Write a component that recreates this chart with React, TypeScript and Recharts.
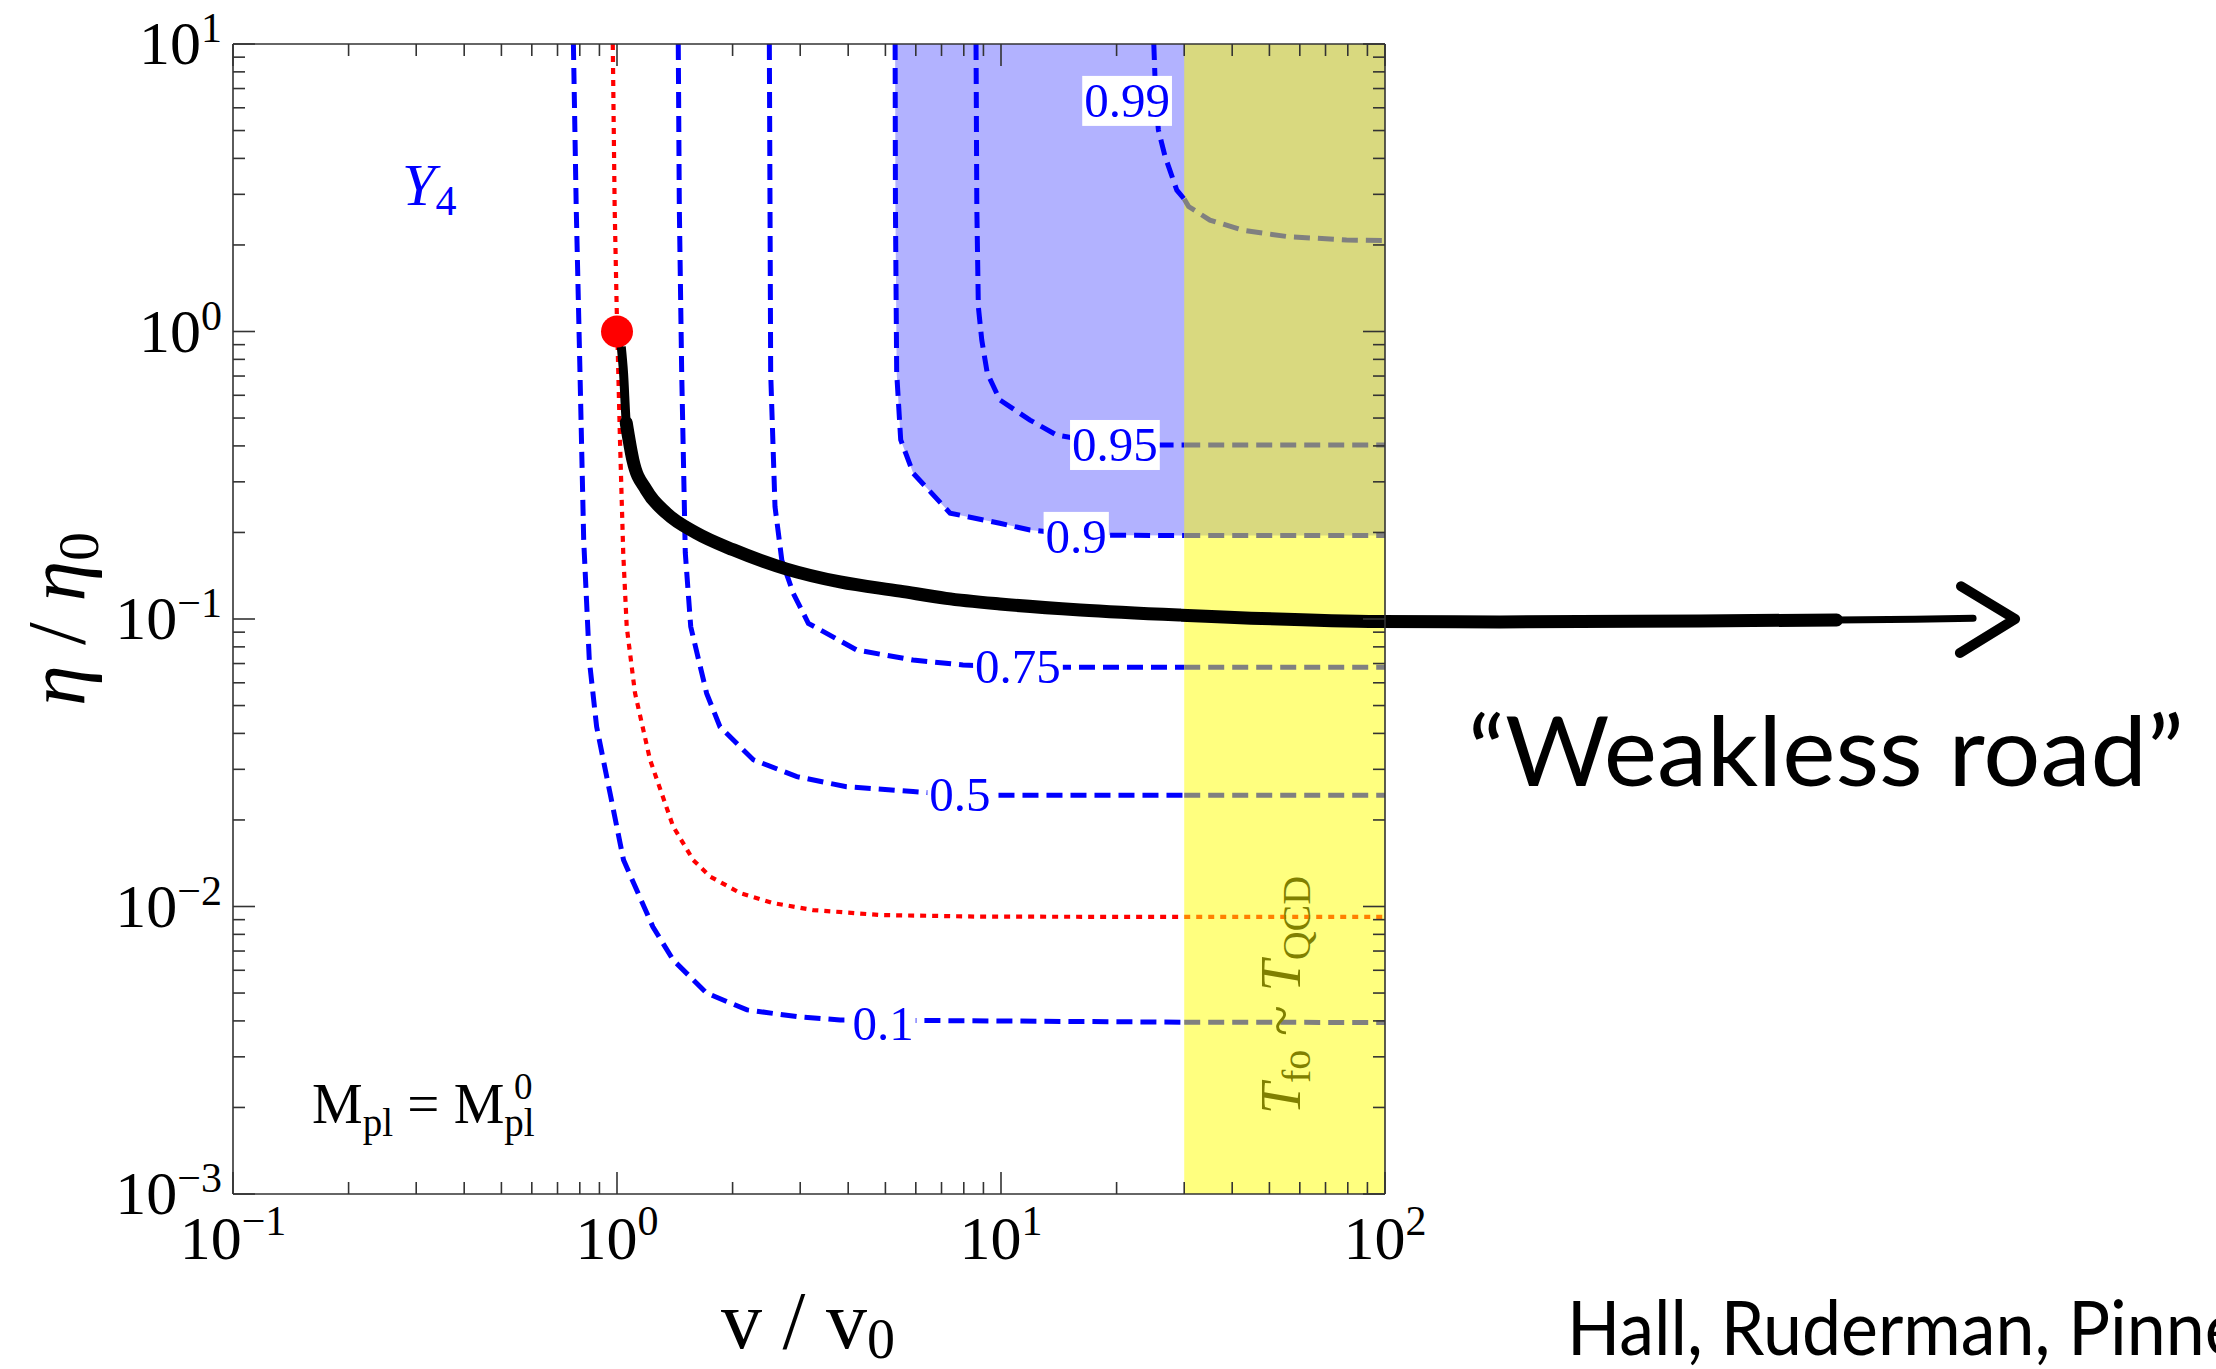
import React from 'react';
import { ComposedChart, XAxis, YAxis, Line, Area, Scatter, ReferenceArea, ReferenceDot } from 'recharts';

type Pt = { v: number; eta: number };

// axis ticks (log decades + minor steps)
const xMajor = [0.1, 1, 10, 100];
const xMajorExp = ['\u22121', '0', '1', '2'];
const yMajor = [0.001, 0.01, 0.1, 1, 10];
const yMajorExp = ['\u22123', '\u22122', '\u22121', '0', '1'];
const minorSteps = [2, 3, 4, 5, 6, 7, 8, 9];

// T_fo ~ T_QCD band
const bandStart = 30;
const bandEnd = 100;

// contours (v / v0, eta / eta0)
const contour10: Pt[] = [
  { v: 0.77, eta: 10 }, { v: 0.783, eta: 2.72 }, { v: 0.801, eta: 0.718 }, { v: 0.819, eta: 0.188 },
  { v: 0.847, eta: 0.072 }, { v: 0.885, eta: 0.0422 }, { v: 0.959, eta: 0.0248 }, { v: 1.04, eta: 0.0145 },
  { v: 1.24, eta: 0.0085 }, { v: 1.4, eta: 0.00652 }, { v: 1.71, eta: 0.005 }, { v: 2.18, eta: 0.00437 },
  { v: 2.94, eta: 0.00414 }, { v: 3.81, eta: 0.00403 }, { v: 30, eta: 0.00396 }, { v: 100, eta: 0.00395 },
];
const redContour: Pt[] = [
  { v: 0.975, eta: 10 }, { v: 0.986, eta: 2.72 }, { v: 0.998, eta: 1.22 }, { v: 1.018, eta: 0.42 },
  { v: 1.038, eta: 0.17 }, { v: 1.06, eta: 0.094 }, { v: 1.114, eta: 0.0553 }, { v: 1.219, eta: 0.0324 },
  { v: 1.4, eta: 0.019 }, { v: 1.58, eta: 0.0145 }, { v: 1.75, eta: 0.0127 }, { v: 2.09, eta: 0.01115 },
  { v: 2.55, eta: 0.01028 }, { v: 3.24, eta: 0.00972 }, { v: 4.84, eta: 0.00934 }, { v: 8.81, eta: 0.00922 },
  { v: 30, eta: 0.0092 }, { v: 100, eta: 0.0092 },
];
const contour50: Pt[] = [
  { v: 1.444, eta: 10 }, { v: 1.453, eta: 2.72 }, { v: 1.474, eta: 0.718 }, { v: 1.506, eta: 0.17 },
  { v: 1.556, eta: 0.094 }, { v: 1.712, eta: 0.0551 }, { v: 1.854, eta: 0.0422 }, { v: 2.264, eta: 0.0324 },
  { v: 2.94, eta: 0.0283 }, { v: 3.96, eta: 0.0261 }, { v: 5.9, eta: 0.0251 }, { v: 7.82, eta: 0.0244 },
  { v: 30, eta: 0.0244 }, { v: 100, eta: 0.0244 },
];
const contour75: Pt[] = [
  { v: 2.493, eta: 10 }, { v: 2.503, eta: 2.72 }, { v: 2.513, eta: 0.718 }, { v: 2.579, eta: 0.246 },
  { v: 2.687, eta: 0.16 }, { v: 2.879, eta: 0.1227 }, { v: 3.15, eta: 0.0966 }, { v: 4.21, eta: 0.078 },
  { v: 5.9, eta: 0.072 }, { v: 7.96, eta: 0.0692 }, { v: 11.07, eta: 0.068 }, { v: 30, eta: 0.068 },
  { v: 100, eta: 0.068 },
];
const contour90: Pt[] = [
  { v: 5.3, eta: 10 }, { v: 5.31, eta: 2.72 }, { v: 5.35, eta: 0.718 }, { v: 5.48, eta: 0.42 },
  { v: 5.91, eta: 0.321 }, { v: 7.37, eta: 0.2334 }, { v: 9.93, eta: 0.2153 }, { v: 11.9, eta: 0.204 },
  { v: 15.8, eta: 0.196 }, { v: 30, eta: 0.195 }, { v: 100, eta: 0.195 },
];
const contour95: Pt[] = [
  { v: 8.61, eta: 10 }, { v: 8.65, eta: 2.72 }, { v: 8.73, eta: 1.22 }, { v: 8.91, eta: 0.934 },
  { v: 9.21, eta: 0.716 }, { v: 9.93, eta: 0.578 }, { v: 11.9, eta: 0.492 }, { v: 13.97, eta: 0.436 },
  { v: 19.8, eta: 0.403 }, { v: 30, eta: 0.403 }, { v: 100, eta: 0.403 },
];
const contour99: Pt[] = [
  { v: 25.0, eta: 10 }, { v: 25.3, eta: 6.34 }, { v: 25.7, eta: 5.02 }, { v: 26.75, eta: 4.06 },
  { v: 28.7, eta: 3.1 }, { v: 30, eta: 2.89 }, { v: 30.8, eta: 2.72 }, { v: 35.0, eta: 2.44 },
  { v: 42.7, eta: 2.25 }, { v: 55.5, eta: 2.14 }, { v: 79.4, eta: 2.08 }, { v: 100, eta: 2.07 },
];

const contourLabels = [
  { v: 21.3, eta: 6.34, text: '0.99' },
  { v: 19.8, eta: 0.403, text: '0.95' },
  { v: 15.7, eta: 0.193, text: '0.9' },
  { v: 11.07, eta: 0.068, text: '0.75' },
  { v: 7.82, eta: 0.0244, text: '0.5' },
  { v: 4.93, eta: 0.0039, text: '0.1' },
];

// starting point and the "weakless road" trajectory
const startPoint: Pt[] = [{ v: 1, eta: 1 }];
const roadStart: Pt[] = [
  { v: 1, eta: 1 }, { v: 1.026, eta: 0.885 }, { v: 1.04, eta: 0.718 }, { v: 1.057, eta: 0.481 },
];
const roadBend: Pt[] = [
  { v: 1.026, eta: 0.885 }, { v: 1.04, eta: 0.718 }, { v: 1.057, eta: 0.481 }, { v: 1.1, eta: 0.357 },
  { v: 1.192, eta: 0.281 },
];
const roadMain: Pt[] = [
  { v: 1.057, eta: 0.481 }, { v: 1.1, eta: 0.357 }, { v: 1.192, eta: 0.281 }, { v: 1.347, eta: 0.233 },
  { v: 1.611, eta: 0.199 }, { v: 2.009, eta: 0.174 }, { v: 2.754, eta: 0.1494 }, { v: 3.81, eta: 0.1345 },
  { v: 5.46, eta: 0.125 }, { v: 7.19, eta: 0.118 }, { v: 9.93, eta: 0.1128 }, { v: 16.1, eta: 0.1075 },
  { v: 29.2, eta: 0.1032 }, { v: 97, eta: 0.098 }, { v: 199, eta: 0.0977 }, { v: 661, eta: 0.0985 },
  { v: 1500, eta: 0.0992 },
];
const roadTaper: Pt[] = [{ v: 1500, eta: 0.0992 }, { v: 2400, eta: 0.0998 }, { v: 3400, eta: 0.1006 }];
const arrowHead: Pt[] = [{ v: 3162, eta: 0.13 }, { v: 4375, eta: 0.1 }, { v: 3141, eta: 0.0762 }];

const SERIF = '"Liberation Serif", "Times New Roman", serif';
const HAND = '"Comic Sans MS", "Lato", "Noto Sans", sans-serif';
const FRAME = '#333';

const logTicks = (majors: number[]) => {
  const out: number[] = [];
  majors.forEach((m, i) => {
    out.push(m);
    if (i < majors.length - 1) minorSteps.forEach((k) => out.push(m * k));
  });
  return out;
};
const xTicks = logTicks(xMajor);
const yTicks = logTicks(yMajor);

const below = (pts: Pt[]) => pts.filter((p) => p.v <= bandStart);
const inBand = (pts: Pt[]) => pts.filter((p) => p.v >= bandStart);

const BLUE_DASH = '16 8';
const contours = [
  { id: 'c10', pts: contour10, color: '#0000ff', bandColor: '#808080', dash: BLUE_DASH, w: 5 },
  { id: 'red', pts: redContour, color: '#ff0000', bandColor: '#ff8000', dash: '6 6', w: 4.2 },
  { id: 'c50', pts: contour50, color: '#0000ff', bandColor: '#808080', dash: BLUE_DASH, w: 5 },
  { id: 'c75', pts: contour75, color: '#0000ff', bandColor: '#808080', dash: BLUE_DASH, w: 5 },
  { id: 'c90', pts: contour90, color: '#0000ff', bandColor: '#808080', dash: BLUE_DASH, w: 5 },
  { id: 'c95', pts: contour95, color: '#0000ff', bandColor: '#808080', dash: BLUE_DASH, w: 5 },
  { id: 'c99', pts: contour99, color: '#0000ff', bandColor: '#808080', dash: BLUE_DASH, w: 5 },
];

const BottomTick = (props: any) => {
  const { x, y, payload } = props;
  const idx = xMajor.indexOf(payload.value);
  const major = idx >= 0;
  return (
    <g>
      <line x1={x} x2={x} y1={y} y2={y - (major ? 22 : 12)} stroke={FRAME} strokeWidth={1.6} />
      {major && (
        <text x={x} y={y + 65} textAnchor="middle" fontFamily={SERIF} fontSize={62} fill="#000">
          10<tspan dy={-24} fontSize={42}>{xMajorExp[idx]}</tspan>
        </text>
      )}
    </g>
  );
};

const TopTick = (props: any) => {
  const { x, y, payload } = props;
  const major = xMajor.includes(payload.value);
  return <line x1={x} x2={x} y1={y} y2={y + (major ? 22 : 12)} stroke={FRAME} strokeWidth={1.6} />;
};

const LeftTick = (props: any) => {
  const { x, y, payload } = props;
  const idx = yMajor.indexOf(payload.value);
  const major = idx >= 0;
  return (
    <g>
      <line x1={x} x2={x + (major ? 22 : 12)} y1={y} y2={y} stroke={FRAME} strokeWidth={1.6} />
      {major && (
        <text x={x - 11} y={y + 20} textAnchor="end" fontFamily={SERIF} fontSize={62} fill="#000">
          10<tspan dy={-22} fontSize={42}>{yMajorExp[idx]}</tspan>
        </text>
      )}
    </g>
  );
};

const RightTick = (props: any) => {
  const { x, y, payload } = props;
  const major = yMajor.includes(payload.value);
  return <line x1={x} x2={x - (major ? 22 : 12)} y1={y} y2={y} stroke={FRAME} strokeWidth={1.6} />;
};

const labelShape = (text: string) => (p: any) => {
  const digits = text.replace('.', '').length;
  const w = digits * 24.5 + 12.25 + 4;
  return (
    <g>
      <rect x={p.cx - w / 2} y={p.cy - 25} width={w} height={50} fill="#ffffff" />
      <text x={p.cx} y={p.cy + 16} textAnchor="middle" fontFamily={SERIF} fontSize={49} fill="#0000ff">
        {text}
      </text>
    </g>
  );
};

const App = () => {
  return (
    <div style={{ position: 'relative', width: 2216, height: 1369, overflow: 'hidden', background: '#fff' }}>
      {/* the road runs past the frame into the arrow, so chart clipping is switched off */}
      <style>{'body{margin:0;} .recharts-wrapper [clip-path]{clip-path:none !important;}'}</style>
      <ComposedChart width={2216} height={1369} margin={{ top: 43, right: 830, bottom: 95, left: 133 }}>
        <XAxis
          xAxisId="x"
          dataKey="v"
          type="number"
          scale="log"
          domain={[0.1, 100]}
          allowDataOverflow
          ticks={xTicks}
          interval={0}
          tickSize={0}
          tickMargin={0}
          height={80}
          axisLine={{ stroke: FRAME, strokeWidth: 1.6 }}
          tick={BottomTick}
        />
        <XAxis
          xAxisId="xt"
          orientation="top"
          dataKey="v"
          type="number"
          scale="log"
          domain={[0.1, 100]}
          allowDataOverflow
          ticks={xTicks}
          interval={0}
          tickSize={0}
          tickMargin={0}
          height={1}
          axisLine={{ stroke: FRAME, strokeWidth: 1.6 }}
          tick={TopTick}
        />
        <YAxis
          yAxisId="y"
          type="number"
          scale="log"
          domain={[0.001, 10]}
          allowDataOverflow
          ticks={yTicks}
          interval={0}
          tickSize={0}
          tickMargin={0}
          width={100}
          axisLine={{ stroke: FRAME, strokeWidth: 1.6 }}
          tick={LeftTick}
        />
        <YAxis
          yAxisId="yr"
          orientation="right"
          type="number"
          scale="log"
          domain={[0.001, 10]}
          allowDataOverflow
          ticks={yTicks}
          interval={0}
          tickSize={0}
          tickMargin={0}
          width={1}
          axisLine={{ stroke: FRAME, strokeWidth: 1.6 }}
          tick={RightTick}
        />

        <Area
          xAxisId="x"
          yAxisId="y"
          data={contour90}
          dataKey={(d: Pt) => [d.eta, 10]}
          type="linear"
          fill="#0000ff"
          fillOpacity={0.3}
          stroke="none"
          isAnimationActive={false}
        />
        <ReferenceArea
          xAxisId="x"
          yAxisId="y"
          x1={bandStart}
          x2={bandEnd}
          y1={0.001}
          y2={10}
          fill="#ffff00"
          fillOpacity={0.5}
          stroke="none"
        />

        {contours.map((c) => (
          <Line
            key={c.id + '-in'}
            xAxisId="x"
            yAxisId="y"
            data={below(c.pts)}
            dataKey="eta"
            type="linear"
            stroke={c.color}
            strokeWidth={c.w}
            strokeDasharray={c.dash}
            dot={false}
            activeDot={false}
            isAnimationActive={false}
          />
        ))}
        {contours.map((c) => (
          <Line
            key={c.id + '-band'}
            xAxisId="x"
            yAxisId="y"
            data={inBand(c.pts)}
            dataKey="eta"
            type="linear"
            stroke={c.bandColor}
            strokeWidth={c.w}
            strokeDasharray={c.dash}
            dot={false}
            activeDot={false}
            isAnimationActive={false}
          />
        ))}

        <Line xAxisId="x" yAxisId="y" data={roadStart} dataKey="eta" type="monotone" stroke="#000"
          strokeWidth={4} dot={false} activeDot={false} isAnimationActive={false} />
        <Line xAxisId="x" yAxisId="y" data={roadBend} dataKey="eta" type="monotone" stroke="#000"
          strokeWidth={9} dot={false} activeDot={false} isAnimationActive={false} />
        <Line xAxisId="x" yAxisId="y" data={roadMain} dataKey="eta" type="monotone" stroke="#000"
          strokeWidth={13} strokeLinecap="round" dot={false} activeDot={false} isAnimationActive={false} />
        <Line xAxisId="x" yAxisId="y" data={roadTaper} dataKey="eta" type="monotone" stroke="#000"
          strokeWidth={7} strokeLinecap="round" dot={false} activeDot={false} isAnimationActive={false} />
        <Line xAxisId="x" yAxisId="y" data={arrowHead} dataKey="eta" type="linear" stroke="#000"
          strokeWidth={10} strokeLinecap="round" strokeLinejoin="round" dot={false} activeDot={false}
          isAnimationActive={false} />

        {contourLabels.map((l) => (
          <ReferenceDot
            key={l.text}
            xAxisId="x"
            yAxisId="y"
            x={l.v}
            y={l.eta}
            r={1}
            ifOverflow="visible"
            shape={labelShape(l.text)}
          />
        ))}

        <Scatter
          xAxisId="x"
          yAxisId="y"
          data={startPoint}
          dataKey="eta"
          isAnimationActive={false}
          shape={(p: any) => <circle cx={p.cx} cy={p.cy} r={16} fill="#ff0000" />}
        />
      </ComposedChart>

      <svg width={2216} height={1369} style={{ position: 'absolute', left: 0, top: 0, pointerEvents: 'none' }}>
        <text x={402} y={205} fontFamily={SERIF} fontSize={60} fill="#0000ff">
          <tspan fontStyle="italic">Y</tspan>
          <tspan fontSize={42} dy={10}>4</tspan>
        </text>
        <text x={312} y={1123} fontFamily={SERIF} fontSize={57} fill="#000">
          M<tspan fontSize={39} dy={13}>pl</tspan>
          <tspan dy={-13}>{' = M'}</tspan>
          <tspan fontSize={39} dy={13}>pl</tspan>
        </text>
        <text x={514} y={1099} fontFamily={SERIF} fontSize={37} fill="#000">0</text>
        <text x={1300} y={995} transform="rotate(-90 1300 995)" textAnchor="middle" fontFamily={SERIF}
          fontSize={56} fill="#808000">
          <tspan fontStyle="italic">T</tspan>
          <tspan fontSize={40} dy={10}>fo</tspan>
          <tspan dy={-10}>{' ~ '}</tspan>
          <tspan fontStyle="italic">T</tspan>
          <tspan fontSize={40} dy={10}>QCD</tspan>
        </text>
        <text x={808} y={1348} textAnchor="middle" fontFamily={SERIF} fontSize={82} fill="#000">
          {'v / v'}<tspan fontSize={56} dy={10}>0</tspan>
        </text>
        <text x={84} y={619} transform="rotate(-90 84 619)" textAnchor="middle" fontFamily={SERIF}
          fontSize={82} fill="#000">
          <tspan fontStyle="italic">η</tspan>
          <tspan>{' / '}</tspan>
          <tspan fontStyle="italic">η</tspan>
          <tspan fontSize={58} dy={14}>0</tspan>
        </text>
        <text x={1468} y={786} fontFamily={HAND} fontSize={96} fill="#000" textLength={716}
          lengthAdjust="spacingAndGlyphs">
          {'\u201CWeakless road\u201D'}
        </text>
        <text x={1567} y={1355} fontFamily={HAND} fontSize={76} fill="#000" textLength={700}
          lengthAdjust="spacingAndGlyphs">
          Hall, Ruderman, Pinner
        </text>
      </svg>
    </div>
  );
};

export default App;
